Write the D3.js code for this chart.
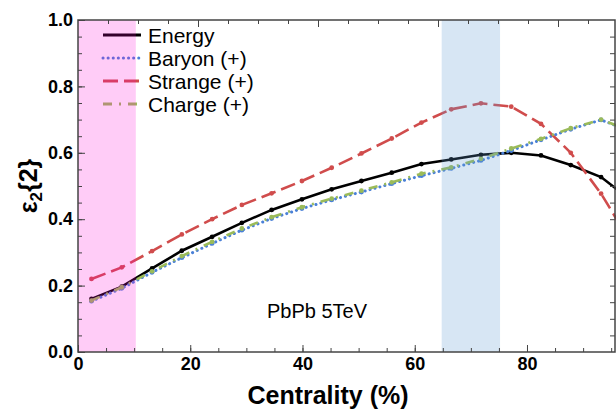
<!DOCTYPE html>
<html>
<head>
<meta charset="utf-8">
<script src="https://cdn.jsdelivr.net/npm/d3@7"></script>
<style>
  body { margin: 0; background: #fff; }
  svg { display: block; font-family: "Liberation Sans", Arial, sans-serif; }
</style>
</head>
<body>
<div id="chart"></div>
<script>
// Centrality positions of the points
const centrality = [2.4, 7.8, 13.2, 18.5, 23.9, 29.2, 34.5, 39.9, 45.2, 50.5, 55.9, 61.2, 66.5, 71.8, 77.2, 82.5, 87.8, 93.2, 98.5];

// eps2{2} for each series
const energy  = [0.160, 0.197, 0.252, 0.305, 0.347, 0.389, 0.428, 0.460, 0.490, 0.515, 0.540, 0.566, 0.580, 0.594, 0.600, 0.592, 0.563, 0.527, 0.458];
const baryon  = [0.153, 0.192, 0.240, 0.284, 0.327, 0.367, 0.402, 0.432, 0.458, 0.482, 0.507, 0.531, 0.553, 0.577, 0.607, 0.639, 0.671, 0.699, 0.665];
const strange = [0.220, 0.255, 0.304, 0.354, 0.400, 0.443, 0.478, 0.515, 0.555, 0.598, 0.643, 0.691, 0.731, 0.749, 0.739, 0.687, 0.600, 0.477, 0.330];
const charge  = [0.155, 0.195, 0.243, 0.289, 0.332, 0.372, 0.406, 0.436, 0.462, 0.486, 0.511, 0.537, 0.556, 0.582, 0.613, 0.642, 0.674, 0.700, 0.666];

const seriesNames = ["Energy", "Baryon (+)", "Strange (+)", "Charge (+)"];

// shaded centrality windows
const bands = [[0, 10.3], [64.8, 75.2]];

const xTicks = [0, 20, 40, 60, 80];
const yTicks = [0.0, 0.2, 0.4, 0.6, 0.8, 1.0];

const width = 616, height = 410;
const mLeft = 78, mRight = 616, mTop = 20, mBottom = 352;

const x = d3.scaleLinear().domain([0, 95.86]).range([mLeft, mRight]);
const y = d3.scaleLinear().domain([0, 1]).range([mBottom, mTop]);
// top frame ticks use their own spacing
const xTop = d3.scaleLinear().domain([0, 18]).range([mLeft, mLeft + 540]);

const svg = d3.select("#chart").append("svg")
    .attr("width", width)
    .attr("height", height);

svg.append("defs").append("clipPath").attr("id", "plotClip")
    .append("rect")
    .attr("x", mLeft).attr("y", mTop)
    .attr("width", mRight - mLeft).attr("height", mBottom - mTop);

const styles = [
    { color: "#000000", dash: null, cap: "butt" },
    { color: "#4a80d8", dash: "0.1,5", cap: "round" },
    { color: "#d04c4c", dash: "15,6", cap: "butt" },
    { color: "#9bbb59", dash: "9,7,2,7", cap: "butt" }
];
const allSeries = [energy, baryon, strange, charge];

const plot = svg.append("g").attr("clip-path", "url(#plotClip)");

const line = d3.line()
    .x((d, i) => x(centrality[i]))
    .y(d => y(d));

allSeries.forEach((vals, k) => {
    const s = styles[k];
    plot.append("path")
        .datum(vals)
        .attr("d", line)
        .attr("fill", "none")
        .attr("stroke", s.color)
        .attr("stroke-width", k === 1 ? 3 : 2.6)
        .attr("stroke-linecap", s.cap)
        .attr("stroke-dasharray", s.dash);
    plot.selectAll(null)
        .data(vals)
        .enter().append("circle")
        .attr("cx", (d, i) => x(centrality[i]))
        .attr("cy", d => y(d))
        .attr("r", 2.4)
        .attr("fill", s.color);
});

// legend
const legend = svg.append("g");
seriesNames.forEach((name, k) => {
    const ly = 35 + k * 23;
    const s = styles[k];
    legend.append("line")
        .attr("x1", 103).attr("x2", 141)
        .attr("y1", ly).attr("y2", ly)
        .attr("stroke", s.color)
        .attr("stroke-width", k === 1 ? 3 : 2.8)
        .attr("stroke-linecap", s.cap)
        .attr("stroke-dasharray", s.dash);
    legend.append("text")
        .attr("x", 148).attr("y", ly)
        .attr("dy", "0.36em")
        .attr("font-size", 21)
        .attr("fill", "#000")
        .text(name);
});

// bands go on top, semi transparent
svg.append("rect")
    .attr("x", x(bands[0][0])).attr("y", mTop)
    .attr("width", x(bands[0][1]) - x(bands[0][0])).attr("height", mBottom - mTop)
    .attr("fill", "rgb(255,0,215)").attr("fill-opacity", 0.2);
svg.append("rect")
    .attr("x", x(bands[1][0])).attr("y", mTop)
    .attr("width", x(bands[1][1]) - x(bands[1][0])).attr("height", mBottom - mTop)
    .attr("fill", "rgb(95,155,212)").attr("fill-opacity", 0.25);

svg.append("text")
    .attr("x", 267).attr("y", 318)
    .attr("font-size", 20)
    .attr("fill", "#000")
    .text("PbPb 5TeV");

// axes (ticks pointing inward)
const tickFont = g => g.selectAll("text")
    .attr("font-size", 18).attr("font-weight", "bold").attr("fill", "#000");
const cleanAxis = g => {
    g.select(".domain").remove();
    g.selectAll("line").attr("stroke", "#444").attr("stroke-width", 1);
};

svg.append("g")
    .attr("transform", `translate(0,${mBottom})`)
    .call(d3.axisBottom(x).tickValues(d3.range(5, 96, 5)).tickSize(-4).tickFormat(""))
    .call(cleanAxis);
svg.append("g")
    .attr("transform", `translate(0,${mBottom})`)
    .call(d3.axisBottom(x).tickValues(xTicks).tickSize(-7).tickPadding(5).tickFormat(d3.format("d")))
    .call(cleanAxis).call(tickFont);

svg.append("g")
    .attr("transform", `translate(${mLeft},0)`)
    .call(d3.axisLeft(y).tickValues(d3.range(0.05, 1, 0.05)).tickSize(-4).tickFormat(""))
    .call(cleanAxis);
svg.append("g")
    .attr("transform", `translate(${mLeft},0)`)
    .call(d3.axisLeft(y).tickValues(yTicks).tickSize(-7).tickPadding(5).tickFormat(d3.format(".1f")))
    .call(cleanAxis).call(tickFont);

svg.append("g")
    .attr("transform", `translate(${mRight - 1},0)`)
    .call(d3.axisRight(y).tickValues(d3.range(0.05, 1, 0.05)).tickSize(-5).tickFormat(""))
    .call(cleanAxis);

svg.append("g")
    .attr("transform", `translate(0,${mTop})`)
    .call(d3.axisTop(xTop).tickValues(d3.range(1, 18)).tickSize(-4).tickFormat(""))
    .call(cleanAxis)
    .selectAll(".tick line")
    .attr("y2", d => d % 4 === 0 ? 7 : 4);

// frame
svg.append("rect")
    .attr("x", mLeft).attr("y", mTop)
    .attr("width", mRight - mLeft - 1).attr("height", mBottom - mTop)
    .attr("fill", "none")
    .attr("stroke", "#444")
    .attr("stroke-width", 1.5);

// axis titles
svg.append("text")
    .attr("x", 328).attr("y", 404)
    .attr("text-anchor", "middle")
    .attr("font-size", 25)
    .attr("font-weight", "bold")
    .text("Centrality (%)");

const yTitle = svg.append("text")
    .attr("transform", `translate(37,${(mTop + mBottom) / 2}) rotate(-90)`)
    .attr("text-anchor", "middle")
    .attr("font-size", 25)
    .attr("font-weight", "bold");
yTitle.append("tspan").text("\u03b5");
yTitle.append("tspan").attr("font-size", 17).attr("dy", 5).text("2");
yTitle.append("tspan").attr("dy", -5).text("{2}");
</script>
</body>
</html>
